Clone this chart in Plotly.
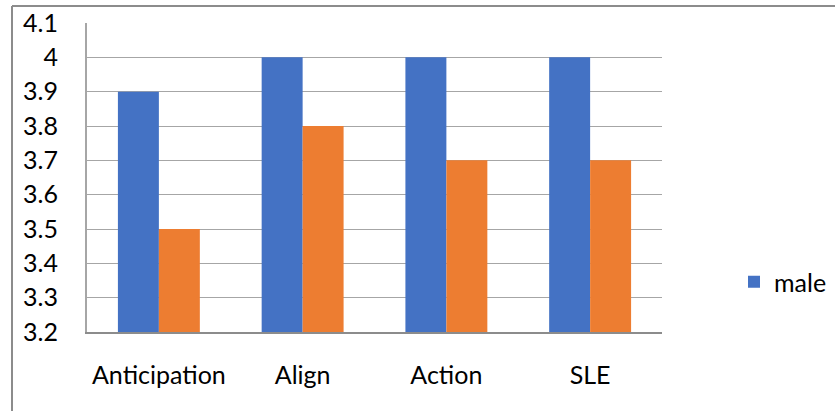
import plotly.graph_objects as go

categories = ["Anticipation", "Align", "Action", "SLE"]
male_scores = [3.9, 4.0, 4.0, 4.0]
female_scores = [3.5, 3.8, 3.7, 3.7]
y_ticks = [3.2, 3.3, 3.4, 3.5, 3.6, 3.7, 3.8, 3.9, 4.0, 4.1]
y_tick_text = ["3.2", "3.3", "3.4", "3.5", "3.6", "3.7", "3.8", "3.9", "4", "4.1"]

W, H = 835, 411
PL, PR, PT, PB = 87, 662, 23, 332  # plot area in pixels
pw, ph = PR - PL, PB - PT

FONT = dict(family="Lato, Calibri, sans-serif", size=25, color="#000000")

fig = go.Figure()
fig.add_trace(go.Bar(x=categories, y=male_scores, name="male",
                     marker=dict(color="#4472C4", line=dict(width=0))))
fig.add_trace(go.Bar(x=categories, y=female_scores, name="female",
                     showlegend=False,
                     marker=dict(color="#ED7D31", line=dict(width=0))))

def px_x(x):
    return (x - PL) / pw

def px_y(y):
    return (PB - y) / ph

# outer chart frame (left and top edges)
frame = dict(color="#8C8C8C", width=2)
fig.add_shape(type="line", xref="paper", yref="paper",
              x0=px_x(12), x1=px_x(12), y0=px_y(6), y1=px_y(H + 5), line=frame)
fig.add_shape(type="line", xref="paper", yref="paper",
              x0=px_x(12), x1=px_x(W + 5), y0=px_y(6), y1=px_y(6), line=frame)

fig.update_layout(
    width=W, height=H,
    margin=dict(l=PL, r=W - PR, t=PT, b=H - PB, pad=0, autoexpand=False),
    paper_bgcolor="white", plot_bgcolor="white",
    barmode="group", bargap=0.43, bargroupgap=0,
    font=FONT,
    showlegend=True,
    legend=dict(x=px_x(734), y=px_y(282), xanchor="left", yanchor="middle",
                font=FONT, bgcolor="rgba(0,0,0,0)", itemwidth=30),
    xaxis=dict(showgrid=False, showline=True, linecolor="#8C8C8C", linewidth=2,
               ticks="", tickfont=FONT, ticklabelstandoff=20, automargin=False),
    yaxis=dict(range=[3.2, 4.1], tickvals=y_ticks, ticktext=y_tick_text,
               showgrid=True, gridcolor="#A6A6A6", gridwidth=1,
               showline=True, linecolor="#A6A6A6", linewidth=2,
               zeroline=False, ticks="", tickfont=FONT, ticklabelstandoff=22,
               automargin=False),
)

fig.write_html("out.html")
